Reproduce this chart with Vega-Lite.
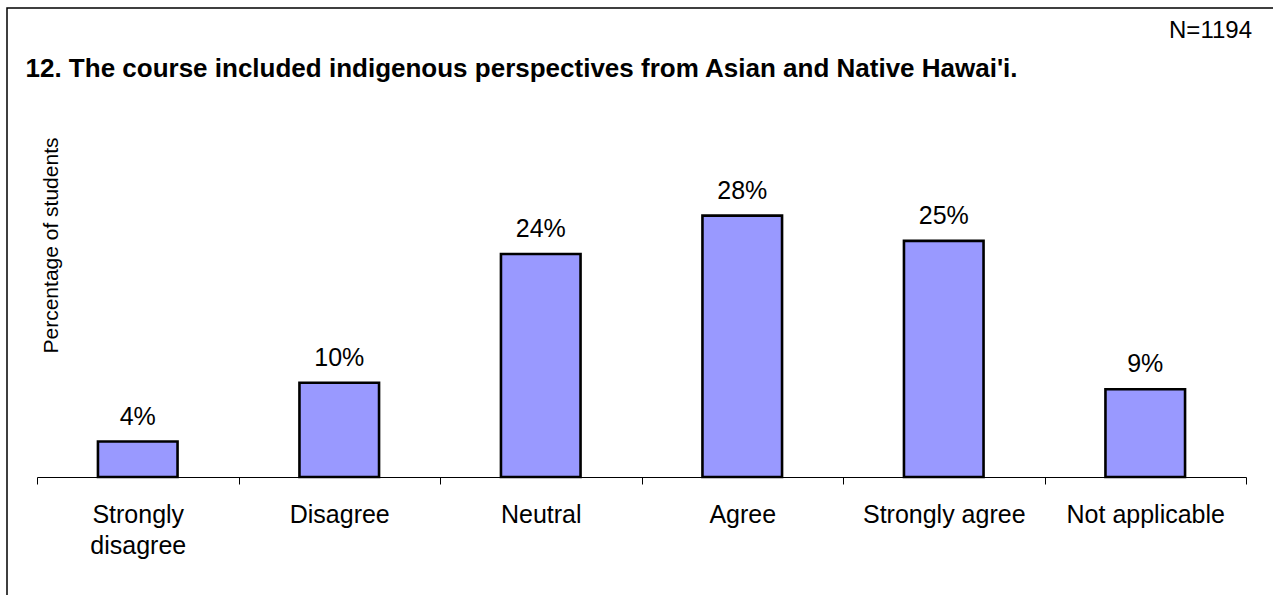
{
  "$schema": "https://vega.github.io/schema/vega-lite/v6.json",
  "width": 1270,
  "height": 590,
  "autosize": "none",
  "padding": {"left": 7, "top": 8, "right": 0, "bottom": 0},
  "background": "white",
  "config": {"view": {"stroke": "black", "strokeWidth": 1.5}, "font": "Liberation Sans"},
  "title": {
    "text": "N=1194",
    "anchor": "end",
    "fontSize": 24,
    "fontWeight": "normal",
    "color": "black",
    "font": "Liberation Sans",
    "baseline": "alphabetic",
    "offset": 0,
    "dx": -25,
    "dy": 54
  },
  "data": {
    "values": [
      {"response": "Strongly disagree", "share": 0.038},
      {"response": "Disagree", "share": 0.101},
      {"response": "Neutral", "share": 0.239},
      {"response": "Agree", "share": 0.280},
      {"response": "Strongly agree", "share": 0.253},
      {"response": "Not applicable", "share": 0.094}
    ]
  },
  "layer": [
    {
      "mark": {"type": "bar", "fill": "#9999FF", "stroke": "black", "strokeWidth": 2.6, "width": {"band": 0.395}},
      "encoding": {
        "x": {
          "field": "response",
          "type": "nominal",
          "sort": null,
          "scale": {"paddingInner": 0, "paddingOuter": 0, "range": [30, 1239]},
          "axis": {
            "title": null,
            "orient": "bottom",
            "offset": -121,
            "domain": true,
            "domainColor": "black",
            "domainWidth": 1,
            "ticks": true,
            "tickBand": "extent",
            "tickSize": 7,
            "tickColor": "black",
            "tickWidth": 1,
            "labelFontSize": 25,
            "labelColor": "black",
            "labelFont": "Liberation Sans",
            "labelPadding": 18,
            "labelBaseline": "top",
            "labelLineHeight": 31,
            "labelAngle": 0,
            "labelExpr": "datum.value == 'Strongly disagree' ? ['Strongly', 'disagree'] : datum.label",
            "grid": false
          }
        },
        "y": {
          "field": "share",
          "type": "quantitative",
          "scale": {"domain": [0, 0.3], "range": [469, 189]},
          "axis": {
            "title": "Percentage of students",
            "domain": false,
            "ticks": false,
            "labels": false,
            "grid": false,
            "titleAngle": 270,
            "titleX": 50,
            "titleY": 237,
            "titleAlign": "center",
            "titleBaseline": "alphabetic",
            "titleFontSize": 21,
            "titleFontWeight": "normal",
            "titleColor": "black",
            "titleFont": "Liberation Sans"
          }
        }
      }
    },
    {
      "mark": {"type": "text", "fontSize": 25, "baseline": "alphabetic", "dy": -17, "font": "Liberation Sans", "color": "black"},
      "encoding": {
        "x": {
          "field": "response",
          "type": "nominal",
          "sort": null,
          "axis": {
            "orient": "top",
            "title": "12. The course included indigenous perspectives from Asian and Native Hawai'i.",
            "domain": false,
            "ticks": false,
            "labels": false,
            "grid": false,
            "titleAnchor": "start",
            "titleAlign": "left",
            "titleX": 18,
            "titleY": 68,
            "titleBaseline": "alphabetic",
            "titleFontSize": 26,
            "titleFontWeight": "bold",
            "titleColor": "black",
            "titleFont": "Liberation Sans"
          }
        },
        "y": {"field": "share", "type": "quantitative"},
        "text": {"field": "share", "type": "quantitative", "format": ".0%"}
      }
    }
  ],
  "resolve": {"axis": {"x": "independent"}}
}
